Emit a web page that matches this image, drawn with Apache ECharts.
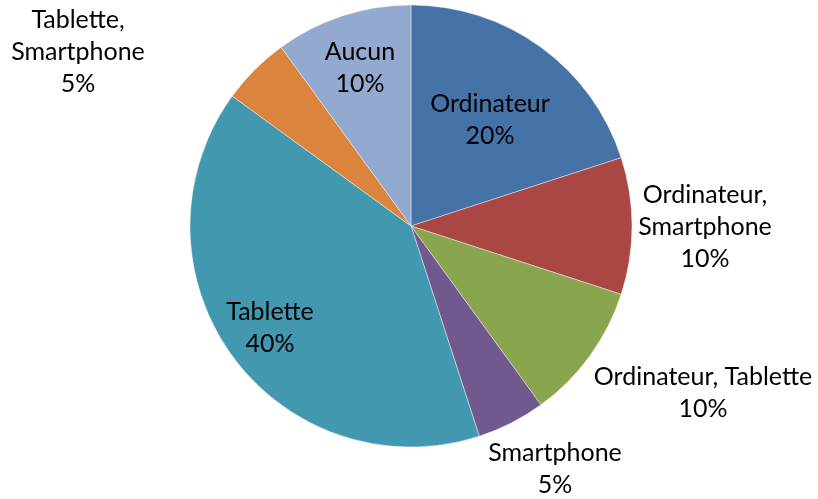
<!DOCTYPE html>
<html>
<head>
<meta charset="utf-8">
<script src="https://cdn.jsdelivr.net/npm/echarts@6/dist/echarts.min.js"></script>
<style>html,body{margin:0;padding:0;background:#fff;}#c{width:818px;height:499px;}</style>
</head>
<body>
<div id="c"></div>
<script>
const categories = ['Ordinateur', 'Ordinateur,\nSmartphone', 'Ordinateur, Tablette', 'Smartphone', 'Tablette', 'Tablette,\nSmartphone', 'Aucun'];
const values = [20, 10, 10, 5, 40, 5, 10];
const colors = ['#4572A7', '#AA4643', '#89A54E', '#71588F', '#4198AF', '#DB843D', '#93A9CF'];
// label anchor positions (pixels)
const labelPos = [[490, 120], [705, 227], [703, 393], [555, 469], [270, 328], [78, 52], [360, 68]];

const chart = echarts.init(document.getElementById('c'));
chart.setOption({
  animation: false,
  series: [{
    type: 'pie',
    center: [411, 226],
    radius: 221,
    startAngle: 90,
    clockwise: true,
    itemStyle: { borderColor: 'rgba(255,255,255,0.6)', borderWidth: 0.7 },
    label: {
      show: true,
      formatter: p => p.name + '\n' + p.value + '%',
      fontFamily: 'Lato',
      fontSize: 25,
      lineHeight: 32,
      color: '#000',
      align: 'center',
      overflow: 'none'
    },
    labelLine: { show: false },
    labelLayout: function (params) {
      const p = labelPos[params.dataIndex];
      return { x: p[0], y: p[1], align: 'center', verticalAlign: 'middle', width: 300 };
    },
    data: categories.map((c, i) => ({ name: c, value: values[i], itemStyle: { color: colors[i] } }))
  }]
});
</script>
</body>
</html>
